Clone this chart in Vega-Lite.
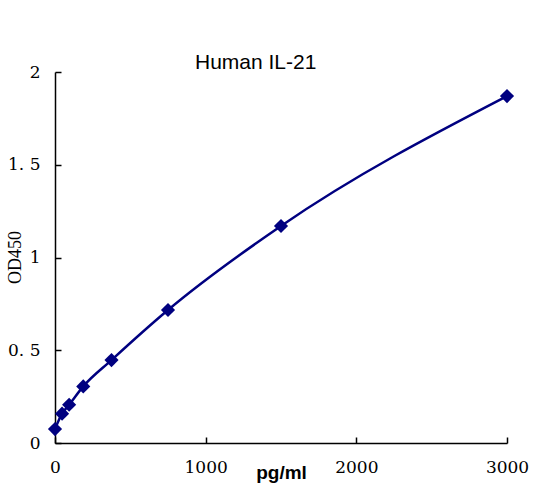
{
  "$schema": "https://vega.github.io/schema/vega-lite/v6.json",
  "autosize": "none",
  "padding": {"left": 55, "top": 72, "right": 26, "bottom": 43},
  "width": 452,
  "height": 371,
  "background": "white",
  "config": {"view": {"stroke": null}},
  "title": {
    "text": "Human IL-21",
    "anchor": "start",
    "dx": 189,
    "offset": -27,
    "baseline": "alphabetic",
    "font": "Liberation Sans",
    "fontSize": 21,
    "fontWeight": "normal",
    "color": "black"
  },
  "data": {
    "values": [
      {"conc": 0, "od": 0.075},
      {"conc": 46.875, "od": 0.158},
      {"conc": 93.75, "od": 0.206},
      {"conc": 187.5, "od": 0.305},
      {"conc": 375, "od": 0.447},
      {"conc": 750, "od": 0.717},
      {"conc": 1500, "od": 1.17},
      {"conc": 3000, "od": 1.87}
    ]
  },
  "encoding": {
    "x": {
      "field": "conc",
      "type": "quantitative",
      "scale": {"domain": [0, 3000], "nice": false, "zero": true},
      "axis": {
        "title": "pg/ml",
        "titleFont": "Liberation Sans",
        "titleFontSize": 19,
        "titleFontWeight": "bold",
        "titleColor": "black",
        "titleBaseline": "alphabetic",
        "titleY": 35,
        "values": [0, 1000, 2000, 3000],
        "format": "d",
        "grid": false,
        "domainColor": "black",
        "domainWidth": 1.5,
        "tickColor": "black",
        "tickWidth": 1.5,
        "tickSize": -6,
        "labelFont": "DejaVu Serif",
        "labelFontSize": 17,
        "labelColor": "black",
        "labelPadding": 22,
        "labelFlush": false,
        "labelOverlap": false
      }
    },
    "y": {
      "field": "od",
      "type": "quantitative",
      "scale": {"domain": [0, 2], "nice": false},
      "axis": {
        "title": "OD450",
        "titleFont": "Liberation Serif",
        "titleFontSize": 18,
        "titleFontWeight": "normal",
        "titleColor": "black",
        "titleAngle": -90,
        "titleAlign": "center",
        "titleBaseline": "alphabetic",
        "titleX": -35,
        "titleY": 185,
        "values": [0, 0.5, 1, 1.5, 2],
        "labelExpr": "replace(toString(datum.value), '.', '. ')",
        "grid": false,
        "domainColor": "black",
        "domainWidth": 1.5,
        "tickColor": "black",
        "tickWidth": 1.5,
        "tickSize": -6,
        "labelFont": "DejaVu Serif",
        "labelFontSize": 17,
        "labelColor": "black",
        "labelPadding": 21,
        "labelOverlap": false
      }
    }
  },
  "layer": [
    {
      "mark": {"type": "line", "interpolate": "monotone", "color": "#000080", "strokeWidth": 2.5}
    },
    {
      "mark": {"type": "point", "shape": "diamond", "filled": true, "size": 200, "color": "#000080", "opacity": 1}
    }
  ]
}
